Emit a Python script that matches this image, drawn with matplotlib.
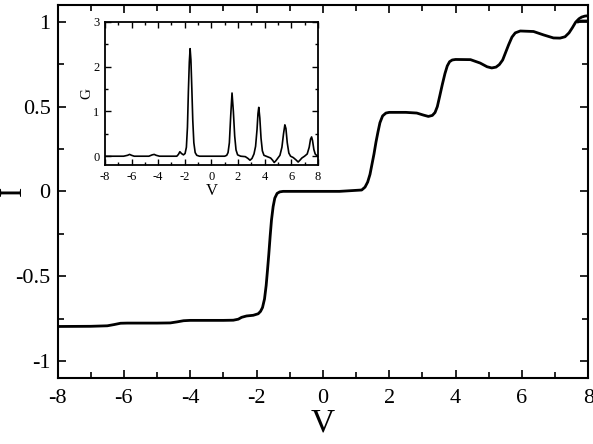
import matplotlib
matplotlib.use("Agg")
import matplotlib.pyplot as plt
from matplotlib.ticker import MultipleLocator

plt.rcParams['font.family'] = ['Liberation Serif', 'DejaVu Serif']

# I-V curve
v_iv = [-8.0, -7.0, -6.5, -6.3, -6.1, -5.9, -5.0, -4.6, -4.4, -4.2, -4.0, -3.0,
        -2.7, -2.55, -2.45, -2.3, -2.1, -1.95, -1.88, -1.82, -1.76, -1.71, -1.67,
        -1.63, -1.59, -1.55, -1.5, -1.45, -1.38, -1.3, -1.2, -0.5, 0.5, 1.17, 1.27,
        1.35, 1.42, 1.48, 1.54, 1.6, 1.66, 1.72, 1.8, 1.9, 2.0, 2.5, 2.83, 3.03,
        3.18, 3.3, 3.38, 3.45, 3.52, 3.6, 3.68, 3.75, 3.82, 3.9, 4.0, 4.45, 4.74,
        4.95, 5.09, 5.22, 5.32, 5.42, 5.5, 5.6, 5.7, 5.8, 5.95, 6.35, 6.65, 6.95,
        7.15, 7.3, 7.42, 7.52, 7.62, 7.72, 7.8, 7.9, 8.0]
i_iv = [-0.797, -0.796, -0.793, -0.786, -0.778, -0.777, -0.777, -0.776, -0.770,
        -0.763, -0.761, -0.761, -0.760, -0.754, -0.743, -0.735, -0.731, -0.722,
        -0.708, -0.685, -0.635, -0.555, -0.465, -0.37, -0.265, -0.17, -0.09, -0.04,
        -0.012, -0.003, 0.0, 0.0, 0.0, 0.008, 0.025, 0.055, 0.10, 0.16, 0.22, 0.29,
        0.35, 0.405, 0.445, 0.462, 0.466, 0.466, 0.462, 0.450, 0.442, 0.448, 0.465,
        0.50, 0.56, 0.63, 0.695, 0.74, 0.765, 0.775, 0.778, 0.777, 0.757, 0.735,
        0.728, 0.733, 0.748, 0.775, 0.815, 0.865, 0.91, 0.935, 0.946, 0.943, 0.923,
        0.905, 0.904, 0.912, 0.935, 0.965, 0.998, 1.018, 1.028, 1.034, 1.036]
# lower strand at the right end
v_tail = [7.7, 7.8, 8.0]
i_tail = [1.0, 1.005, 1.005]

# conductance curve from the inset
v_g = [-8.0, -6.6, -6.3, -6.15, -6.0, -5.8, -4.7, -4.45, -4.3, -4.15, -3.9, -2.6,
       -2.48, -2.37, -2.25, -2.1, -1.98, -1.88, -1.8, -1.73, -1.66, -1.6, -1.54,
       -1.47, -1.4, -1.32, -1.22, -1.1, -0.9, 1.0, 1.15, 1.25, 1.35, 1.45, 1.55,
       1.65, 1.75, 1.85, 1.97, 2.2, 2.55, 2.75, 2.9, 3.05, 3.2, 3.32, 3.43, 3.5,
       3.56, 3.64, 3.73, 3.83, 3.95, 4.2, 4.45, 4.6, 4.72, 4.85, 5.0, 5.15, 5.3,
       5.42, 5.52, 5.6, 5.7, 5.82, 5.95, 6.15, 6.35, 6.52, 6.65, 6.8, 7.0, 7.2,
       7.35, 7.45, 7.53, 7.6, 7.7, 7.8, 7.9, 8.0]
g = [0.0, 0.0, 0.02, 0.04, 0.02, 0.0, 0.0, 0.03, 0.04, 0.02, 0.0, 0.0,
     0.04, 0.10, 0.06, 0.03, 0.06, 0.2, 0.65, 1.45, 2.1, 2.40, 2.15,
     1.5, 0.8, 0.3, 0.08, 0.02, 0.0, 0.0, 0.02, 0.08, 0.3, 0.9, 1.41,
     1.0, 0.45, 0.14, 0.03, 0.0, -0.01, -0.05, -0.09, -0.05, 0.05, 0.22, 0.6, 0.95,
     1.09, 0.85, 0.4, 0.12, 0.02, -0.01, -0.04, -0.09, -0.14, -0.1, -0.04, 0.02, 0.2,
     0.5, 0.7, 0.62, 0.3, 0.07, 0.0, -0.03, -0.08, -0.13, -0.09, -0.04, 0.0, 0.05,
     0.2, 0.38, 0.43, 0.35, 0.15, 0.05, 0.02, 0.0]

fig = plt.figure(figsize=(5.93, 4.44), dpi=100)
ax = fig.add_axes([0.097, 0.149, 0.895, 0.84])
ax.plot(v_iv, i_iv, color='black', lw=2.0)
ax.plot(v_tail, i_tail, color='black', lw=2.0)
ax.set_xlim(-8, 8)
ax.set_ylim(-1.1, 1.1)
ax.set_xticks([-8, -6, -4, -2, 0, 2, 4, 6, 8])
ax.set_xticklabels(['-8', '-6', '-4', '-2', '0', '2', '4', '6', '8'])
ax.xaxis.set_minor_locator(MultipleLocator(1))
ax.set_yticks([-1, -0.5, 0, 0.5, 1])
ax.set_yticklabels(['-1', '-0.5', '0', '0.5', '1'])
ax.yaxis.set_minor_locator(MultipleLocator(0.25))
ax.tick_params(which='both', direction='in', top=True, right=True, width=1.2)
ax.tick_params(which='major', length=6, labelsize=16)
ax.tick_params(axis='x', which='major', pad=8)
ax.tick_params(axis='y', which='major', pad=5)
ax.tick_params(which='minor', length=4)
for s in ax.spines.values():
    s.set_linewidth(1.5)
ax.set_xlabel('V', fontsize=24)
ax.xaxis.label.set_va('center')
ax.xaxis.set_label_coords(0.5, -0.122)
ax.set_ylabel('I', fontsize=22)
ax.yaxis.label.set_va('center')
ax.yaxis.set_label_coords(-0.083, 0.5)

# inset
axi = fig.add_axes([0.177, 0.628, 0.359, 0.323])
axi.plot(v_g, g, color='black', lw=1.2)
axi.set_xlim(-8, 8)
axi.set_ylim(-0.2, 3)
axi.set_xticks([-8, -6, -4, -2, 0, 2, 4, 6, 8])
axi.set_xticklabels(['-8', '-6', '-4', '-2', '0', '2', '4', '6', '8'])
axi.xaxis.set_minor_locator(MultipleLocator(1))
axi.set_yticks([0, 1, 2, 3])
axi.yaxis.set_minor_locator(MultipleLocator(0.5))
axi.tick_params(which='both', direction='in', top=True, right=True, width=1.0)
axi.tick_params(which='major', length=4, labelsize=9, pad=4)
axi.tick_params(which='minor', length=2.5)
for s in axi.spines.values():
    s.set_linewidth(1.3)
axi.set_xlabel('V', fontsize=12, labelpad=0)
axi.set_ylabel('G', fontsize=11, labelpad=0)

fig.savefig('out.png', dpi=100)
